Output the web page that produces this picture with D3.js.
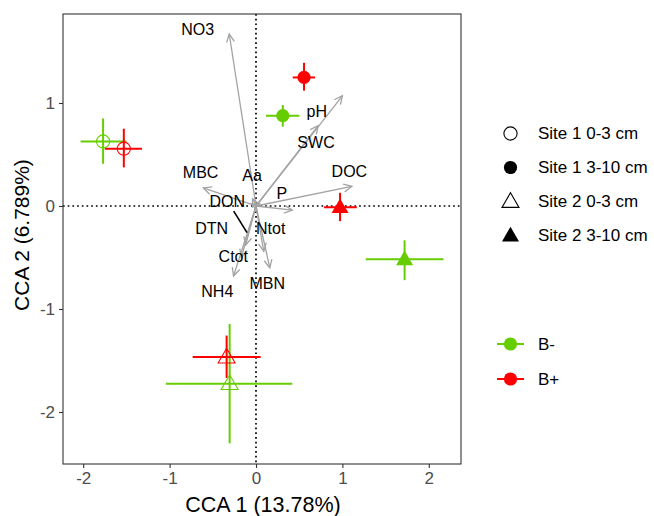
<!DOCTYPE html>
<html>
<head>
<meta charset="utf-8">
<script src="https://cdn.jsdelivr.net/npm/d3@7"></script>
<style>
  html, body { margin: 0; padding: 0; background: #fff; }
  svg { display: block; font-family: "Liberation Sans", Arial, sans-serif; }
</style>
</head>
<body>
<svg id="chart" width="654" height="516"></svg>
<script>
// ---------- data ----------
const xTicks = [-2, -1, 0, 1, 2];
const yTicks = [-2, -1, 0, 1];
const xTitle = "CCA 1 (13.78%)";
const yTitle = "CCA 2 (6.789%)";

// treatment groups (colour)
const groups = ["B-", "B+"];
const groupColors = ["#66CD00", "#FF0000"];

// sample types (shape)
const sites = ["Site 1 0-3 cm", "Site 1 3-10 cm", "Site 2 0-3 cm", "Site 2 3-10 cm"];
const siteShapes = ["circleOpen", "circle", "triangleOpen", "triangle"];

// centroids with error ranges
const pointSite  = ["Site 1 0-3 cm", "Site 1 0-3 cm", "Site 1 3-10 cm", "Site 1 3-10 cm", "Site 2 0-3 cm", "Site 2 0-3 cm", "Site 2 3-10 cm", "Site 2 3-10 cm"];
const pointGroup = ["B-", "B+", "B-", "B+", "B-", "B+", "B-", "B+"];
const pointX     = [-1.77, -1.53, 0.31, 0.556, -0.305, -0.34, 1.72, 0.973];
const pointY     = [0.626, 0.556, 0.877, 1.248, -1.725, -1.467, -0.517, -0.012];
const pointXmin  = [-2.03, -1.75, 0.116, 0.425, -1.043, -0.733, 1.27, 0.788];
const pointXmax  = [-1.50, -1.32, 0.502, 0.684, 0.42, 0.054, 2.17, 1.167];
const pointYmin  = [0.41, 0.375, 0.77, 1.12, -2.304, -1.67, -0.72, -0.147];
const pointYmax  = [0.85, 0.75, 0.98, 1.39, -1.145, -1.258, -0.333, 0.128];

// environmental vectors
const envNames = ["NO3", "pH", "SWC", "DOC", "MBC", "Aa", "P", "DON", "DTN", "Ntot", "Ctot", "MBN", "NH4"];
const envX     = [-0.31, 1.00, 0.72, 1.11, -0.61, -0.04, 0.42, -0.05, -0.12, 0.09, -0.17, 0.16, -0.26];
const envY     = [1.67, 1.07, 0.78, 0.19, 0.175, 0.07, -0.04, 0.02, -0.38, -0.44, -0.50, -0.60, -0.68];
// label anchor positions (data units)
const labelX   = [-0.675, 0.703, 0.695, 1.081, -0.641, -0.046, 0.298, -0.332, -0.513, 0.17, -0.263, 0.131, -0.448];
const labelY   = [1.715, 0.916, 0.617, 0.33, 0.327, 0.298, 0.118, 0.04, -0.22, -0.22, -0.49, -0.749, -0.833];
// label leader segment (data units)
const segX = [-0.258, -0.104];
const segY = [-0.05, -0.259];

// ---------- layout ----------
const svg = d3.select("#chart");
const x = d3.scaleLinear().domain([-2.234, 2.373]).range([63, 461]);
const y = d3.scaleLinear().domain([-2.505, 1.864]).range([464, 14]);
const color = d3.scaleOrdinal().domain(groups).range(groupColors);
const shape = d3.scaleOrdinal().domain(sites).range(siteShapes);

const gray = "#a3a3a3";

svg.append("defs").append("clipPath").attr("id", "clip")
  .append("rect").attr("x", 63).attr("y", 14).attr("width", 398).attr("height", 450);

const plot = svg.append("g").attr("clip-path", "url(#clip)");

// reference dotted lines
plot.append("line")
  .attr("x1", x(0)).attr("x2", x(0)).attr("y1", 14).attr("y2", 464)
  .attr("stroke", "#000").attr("stroke-width", 1.7).attr("stroke-dasharray", "1.7,3");
plot.append("line")
  .attr("x1", 63).attr("x2", 461).attr("y1", y(0)).attr("y2", y(0))
  .attr("stroke", "#000").attr("stroke-width", 1.7).attr("stroke-dasharray", "1.7,3");

// arrows
const env = envNames.map((n, i) => ({ name: n, x: envX[i], y: envY[i], lx: labelX[i], ly: labelY[i] }));
const arrowG = plot.append("g");
env.forEach(d => {
  const x0 = x(0), y0 = y(0), x1 = x(d.x), y1 = y(d.y);
  arrowG.append("line")
    .attr("x1", x0).attr("y1", y0).attr("x2", x1).attr("y2", y1)
    .attr("stroke", gray).attr("stroke-width", 1.3);
  const ang = Math.atan2(y1 - y0, x1 - x0);
  const L = 9, a = Math.PI / 7;
  const p1 = [x1 - L * Math.cos(ang - a), y1 - L * Math.sin(ang - a)];
  const p2 = [x1 - L * Math.cos(ang + a), y1 - L * Math.sin(ang + a)];
  arrowG.append("path")
    .attr("d", `M${p1[0]},${p1[1]}L${x1},${y1}L${p2[0]},${p2[1]}`)
    .attr("fill", "none").attr("stroke", gray).attr("stroke-width", 1.3);
});

// leader segment
plot.append("line")
  .attr("x1", x(segX[0])).attr("y1", y(segY[0]))
  .attr("x2", x(segX[1])).attr("y2", y(segY[1]))
  .attr("stroke", "#000").attr("stroke-width", 1.6);

// labels
plot.append("g").selectAll("text").data(env).join("text")
  .attr("x", d => x(d.lx)).attr("y", d => y(d.ly))
  .attr("text-anchor", "middle").attr("dominant-baseline", "central")
  .attr("font-size", 16).attr("fill", "#000")
  .text(d => d.name);

// points
const pts = pointX.map((v, i) => ({
  site: pointSite[i], group: pointGroup[i], x: v, y: pointY[i],
  xmin: pointXmin[i], xmax: pointXmax[i], ymin: pointYmin[i], ymax: pointYmax[i]
}));

function drawSymbol(g, type, cx, cy, col, scale) {
  scale = scale || 1;
  if (type.startsWith("circle")) {
    g.append("circle").attr("cx", cx).attr("cy", cy).attr("r", 6.6 * scale)
      .attr("fill", type === "circle" ? col : "none")
      .attr("stroke", col).attr("stroke-width", type === "circle" ? 0 : 1.1);
  } else {
    const s = 17 * scale;
    const h = s * Math.sqrt(3) / 2;
    const yTop = cy - h * 0.6, yBot = cy + h * 0.4;
    g.append("path")
      .attr("d", `M${cx},${yTop}L${cx + s / 2},${yBot}L${cx - s / 2},${yBot}Z`)
      .attr("fill", type === "triangle" ? col : "none")
      .attr("stroke", col).attr("stroke-width", type === "triangle" ? 0 : 1.1)
      .attr("stroke-linejoin", "miter");
  }
}

const ptG = plot.append("g");
pts.forEach(d => {
  const col = color(d.group);
  ptG.append("line").attr("x1", x(d.xmin)).attr("x2", x(d.xmax))
    .attr("y1", y(d.y)).attr("y2", y(d.y)).attr("stroke", col).attr("stroke-width", 2);
  ptG.append("line").attr("x1", x(d.x)).attr("x2", x(d.x))
    .attr("y1", y(d.ymin)).attr("y2", y(d.ymax)).attr("stroke", col).attr("stroke-width", 2);
});
pts.forEach(d => drawSymbol(ptG, shape(d.site), x(d.x), y(d.y), color(d.group)));

// panel border
svg.append("rect").attr("x", 63).attr("y", 14).attr("width", 398).attr("height", 450)
  .attr("fill", "none").attr("stroke", "#333").attr("stroke-width", 1.1);

// axes
const fmt = d => String(d);
const xAxis = svg.append("g").attr("transform", "translate(0,464)")
  .call(d3.axisBottom(x).tickValues(xTicks).tickSize(4).tickPadding(4).tickFormat(fmt));
const yAxis = svg.append("g").attr("transform", "translate(63,0)")
  .call(d3.axisLeft(y).tickValues(yTicks).tickSize(4).tickPadding(4).tickFormat(fmt));
[xAxis, yAxis].forEach(a => {
  a.select(".domain").remove();
  a.selectAll(".tick line").attr("stroke", "#333").attr("stroke-width", 1.1);
  a.selectAll(".tick text").attr("fill", "#4d4d4d").attr("font-size", 17)
    .attr("font-family", "Liberation Sans, Arial, sans-serif");
});

svg.append("text").attr("x", 263).attr("y", 512).attr("text-anchor", "middle")
  .attr("font-size", 21.5).attr("fill", "#000").text(xTitle);
svg.append("text").attr("transform", "translate(29,235) rotate(-90)").attr("text-anchor", "middle")
  .attr("font-size", 21).attr("fill", "#000").text(yTitle);

// shape legend
const lg1 = svg.append("g");
sites.forEach((s, i) => {
  const cy = 133.5 + i * 34;
  drawSymbol(lg1, shape(s), 510.5, cy, "#000", 1);
  lg1.append("text").attr("x", 538).attr("y", cy).attr("dominant-baseline", "central")
    .attr("font-size", 17).attr("fill", "#000").text(s);
});

// colour legend
const lg2 = svg.append("g");
groups.forEach((g, i) => {
  const cy = 344 + i * 35;
  lg2.append("line").attr("x1", 497).attr("x2", 524).attr("y1", cy).attr("y2", cy)
    .attr("stroke", color(g)).attr("stroke-width", 2);
  lg2.append("circle").attr("cx", 510.5).attr("cy", cy).attr("r", 6.6).attr("fill", color(g));
  lg2.append("text").attr("x", 538).attr("y", cy).attr("dominant-baseline", "central")
    .attr("font-size", 17).attr("fill", "#000").text(g);
});
</script>
</body>
</html>
